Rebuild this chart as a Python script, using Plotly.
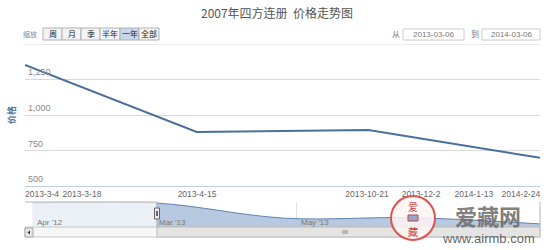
import plotly.graph_objects as go

W, H = 554, 250

# ---- data (ordinal positions: one unit per data point, as in the Highstock ordinal axis)
point_pos = [0, 1, 2, 3]
point_dates = ["2013-03-04", "2013-04-15", "2013-10-21", "2014-03-03"]
prices = [1352, 880, 894, 699]

tick_pos = [0.099, 0.332, 1.002, 1.992, 2.307, 2.615, 2.889]
tick_text = ["2013-3-4", "2013-3-18", "2013-4-15", "2013-10-21", "2013-12-2", "2014-1-13", "2014-2-24"]

y_ticks = [500, 750, 1000, 1250]
y_tick_text = ["500", "750", "1,000", "1,250"]

nav_pos = [-0.97, 0, 1, 2, 3]
nav_values = [1352, 1352, 880, 894, 699]
nav_tick_pos = [-0.97, -0.016, 1.096]
nav_tick_text = ["Apr '12", "Mar '13", "May '13"]

buttons = ["周", "月", "季", "半年", "一年", "全部"]
selected_button = "一年"
date_from, date_to = "2013-03-06", "2014-03-06"


def px(x):
    return x / W


def py(y):
    return 1 - y / H


FONT = "Liberation Sans, Arial, sans-serif"
CJK = "Noto Sans CJK SC, sans-serif"

fig = go.Figure()
fig.add_trace(go.Scatter(
    x=point_pos, y=prices, mode="lines", text=point_dates,
    line=dict(color="#4a6f9c", width=2), xaxis="x", yaxis="y",
    hovertemplate="%{text}: %{y}<extra></extra>"))
fig.add_trace(go.Scatter(
    x=nav_pos, y=nav_values, mode="lines", line_shape="spline",
    line=dict(color="#5f82ad", width=1), fill="tozeroy", fillcolor="#b7c9e1",
    xaxis="x2", yaxis="y2", hoverinfo="skip"))

shapes = []
ann = []


def label(x, y, text, family, size, color, **kw):
    ann.append(dict(x=px(x), y=py(y), xref="paper", yref="paper", text=text, showarrow=False,
                    xanchor=kw.pop("xanchor", "center"), yanchor="middle",
                    font=dict(family=family, size=size, color=color), **kw))


# top (1500) gridline
shapes.append(dict(type="line", xref="x domain", yref="y", x0=0, x1=1, y0=1500, y1=1500,
                   line=dict(color="#d8d8d8", width=1)))

# y tick labels, inside the plot above each gridline (placed through the y scale)
for v, t in zip(y_ticks, y_tick_text):
    ann.append(dict(x=0, y=v, xref="x domain", yref="y", text=t, showarrow=False,
                    xanchor="left", yanchor="bottom", xshift=1, yshift=0,
                    font=dict(family=FONT, size=9, color="#888")))

# range selector
label(30, 33.5, "缩放", CJK, 7, "#7a8ca0")
bx = [43, 62, 81, 100, 120, 139, 159]
for i, b in enumerate(buttons):
    sel = b == selected_button
    shapes.append(dict(type="rect", xref="paper", yref="paper", x0=px(bx[i]), x1=px(bx[i + 1]),
                       y0=py(40), y1=py(28), fillcolor="#c7d7ec" if sel else "#f4f4f4",
                       line=dict(color="#b0b0b0", width=1)))
    label((bx[i] + bx[i + 1]) / 2, 33.5, b, CJK, 8, "#222")

# date inputs
label(396, 33.5, "从", CJK, 8, "#777")
label(475, 33.5, "到", CJK, 8, "#777")
for x0, x1, t in [(403, 464, date_from), (482, 540, date_to)]:
    shapes.append(dict(type="rect", xref="paper", yref="paper", x0=px(x0), x1=px(x1),
                       y0=py(40), y1=py(29), fillcolor="white", line=dict(color="#cccccc", width=1)))
    label((x0 + x1) / 2, 34.5, t, FONT, 8, "#777")

# y axis title
label(12, 115, "<b>价格</b>", CJK, 9, "#4d759e", textangle=-90)

# navigator mask and outline
shapes.append(dict(type="rect", xref="x2", yref="y2 domain", x0=-1.03, x1=0, y0=0, y1=1,
                   fillcolor="rgba(255,255,255,0.72)", line=dict(width=0), layer="above"))
shapes.append(dict(type="path", xref="paper", yref="paper",
                   path=f"M {px(25)},{py(202)} L {px(157)},{py(202)} L {px(157)},{py(227)} "
                        f"L {px(540)},{py(227)} L {px(540)},{py(202)}",
                   line=dict(color="#b2b1b6", width=1), layer="above"))

# navigator axis labels (drawn above the mask, placed through the navigator x scale)
for p, t in zip(nav_tick_pos, nav_tick_text):
    ann.append(dict(x=p, y=0.2, xref="x2", yref="y2 domain", text=t, showarrow=False,
                    xanchor="left", yanchor="middle", xshift=2,
                    font=dict(family=FONT, size=8, color="#777")))

# scrollbar
shapes.append(dict(type="rect", xref="paper", yref="paper", x0=px(25), x1=px(540), y0=py(237), y1=py(227),
                   fillcolor="#f6f6f6", line=dict(color="#c8c8c8", width=1)))
shapes.append(dict(type="rect", xref="paper", yref="paper", x0=px(157), x1=px(540), y0=py(237), y1=py(227),
                   fillcolor="#e4e4e4", line=dict(color="#bbbbbb", width=1)))
shapes.append(dict(type="rect", xref="paper", yref="paper", x0=px(25), x1=px(33), y0=py(237), y1=py(228),
                   fillcolor="#e6e6e6", line=dict(color="#aaaaaa", width=1)))
shapes.append(dict(type="path", xref="paper", yref="paper",
                   path=f"M {px(30)},{py(230.5)} L {px(27.5)},{py(232.5)} L {px(30)},{py(234.5)} Z",
                   fillcolor="#333", line=dict(width=0)))
for gx in [343, 345, 347]:
    shapes.append(dict(type="line", xref="paper", yref="paper", x0=px(gx), x1=px(gx), y0=py(230), y1=py(234),
                       line=dict(color="#888", width=1)))

# navigator handle
shapes.append(dict(type="rect", xref="paper", yref="paper", x0=px(154.5), x1=px(159.5), y0=py(219), y1=py(208),
                   fillcolor="#ebe7e8", line=dict(color="#666", width=1), layer="above"))
for gx in [156.5, 157.5]:
    shapes.append(dict(type="line", xref="paper", yref="paper", x0=px(gx), x1=px(gx), y0=py(216), y1=py(211),
                       line=dict(color="#666", width=1), layer="above"))

# watermark
shapes.append(dict(type="circle", xref="paper", yref="paper", x0=px(391), x1=px(435), y0=py(240), y1=py(196),
                   fillcolor="rgba(255,245,245,0.85)", line=dict(color="#d9534f", width=2), layer="above"))
shapes.append(dict(type="rect", xref="paper", yref="paper", x0=px(408), x1=px(418), y0=py(221), y1=py(215),
                   fillcolor="rgba(120,150,200,0.8)", line=dict(color="#c94040", width=1), layer="above"))
label(413, 206, "爱", CJK, 10, "#c94040")
label(413, 231, "藏", CJK, 10, "#c94040")
label(488, 215, "<b>爱藏网</b>", CJK, 22, "rgba(110,110,110,0.9)")
label(488, 238, "www.airmb.com", FONT, 13, "rgba(90,90,90,0.95)")

fig.update_layout(
    width=W, height=H, margin=dict(l=0, r=0, t=0, b=0, pad=0),
    paper_bgcolor="white", plot_bgcolor="white", showlegend=False,
    title=dict(text="2007年四方连册  价格走势图", x=0.5, xanchor="center", y=py(14), yanchor="middle",
               font=dict(family=CJK, size=12, color="#555")),
    xaxis=dict(domain=[px(25), px(540)], range=[0, 3], tickvals=tick_pos, ticktext=tick_text,
               showgrid=False, zeroline=False, showline=True, linecolor="#c0d0e0", ticks="",
               ticklabeloverflow="allow",
               tickfont=dict(family=FONT, size=8.5, color="#666")),
    yaxis=dict(domain=[py(186), py(44)], range=[500, 1500], tickvals=y_ticks,
               showticklabels=False, showgrid=True, gridcolor="#d8d8d8", zeroline=False,
               showline=False, ticks=""),
    xaxis2=dict(domain=[px(25), px(540)], range=[-1.03, 3], anchor="y2", tickvals=nav_tick_pos,
                showticklabels=False, showgrid=True, gridcolor="#e2e2e2",
                zeroline=False, showline=False, ticks=""),
    yaxis2=dict(domain=[py(227), py(202)], range=[603, 1386], anchor="x2", showticklabels=False,
                showgrid=False, zeroline=False, showline=False),
    shapes=shapes, annotations=ann,
)

fig.write_html("out.html")
